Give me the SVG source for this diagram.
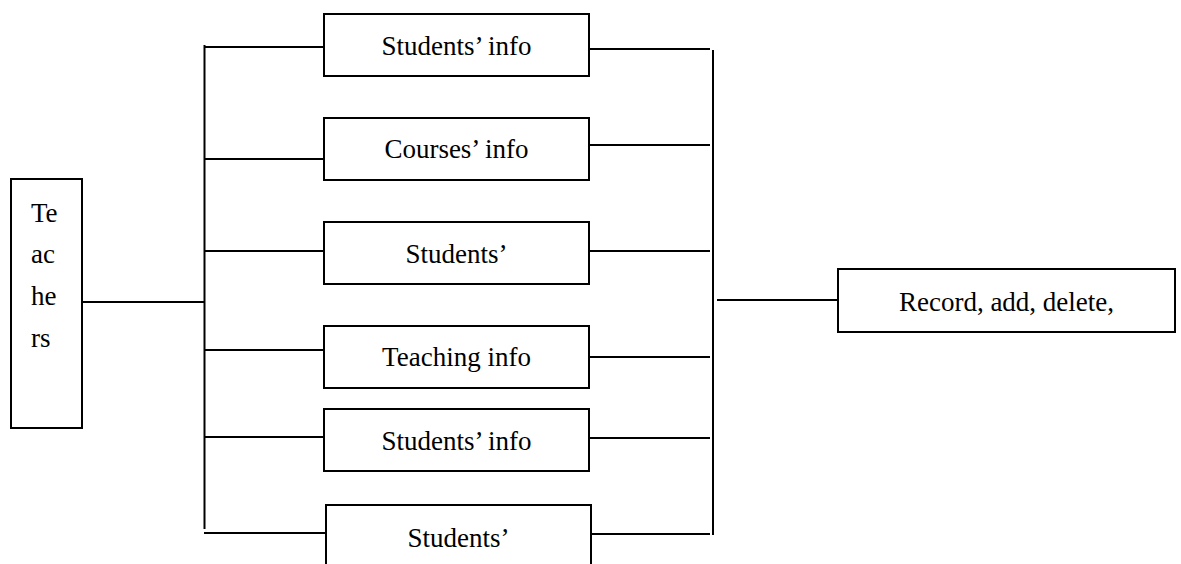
<svg xmlns="http://www.w3.org/2000/svg" width="1181" height="564" viewBox="0 0 1181 564">
<style>
.box{fill:#fff;stroke:#000;stroke-width:2}
.ln{stroke:#000;stroke-width:2;fill:none}
.t{font-family:"Liberation Serif","Times New Roman",serif;font-size:27px;fill:#000}
.c{text-anchor:middle}
</style>
<rect width="1181" height="564" fill="#fff"/>
<g id="connectors">
<line class="ln" x1="204.5" y1="45" x2="204.5" y2="529"/>
<line class="ln" x1="204" y1="47" x2="325" y2="47"/>
<line class="ln" x1="204" y1="159" x2="325" y2="159"/>
<line class="ln" x1="204" y1="251" x2="325" y2="251"/>
<line class="ln" x1="204" y1="350" x2="325" y2="350"/>
<line class="ln" x1="204" y1="437" x2="325" y2="437"/>
<line class="ln" x1="204" y1="533" x2="326" y2="533"/>
<line class="ln" x1="83" y1="302" x2="205" y2="302"/>
<line class="ln" x1="589" y1="49" x2="710" y2="49"/>
<line class="ln" x1="589" y1="145" x2="710" y2="145"/>
<line class="ln" x1="589" y1="251" x2="710" y2="251"/>
<line class="ln" x1="589" y1="357" x2="710" y2="357"/>
<line class="ln" x1="589" y1="438" x2="710" y2="438"/>
<line class="ln" x1="588" y1="534" x2="710" y2="534"/>
<line class="ln" x1="713" y1="50" x2="713" y2="535"/>
<line class="ln" x1="717" y1="300" x2="838" y2="300"/>
</g>
<g id="teachers">
<rect class="box" x="11" y="179" width="71" height="249"/>
<text class="t" x="31" y="222">Te</text>
<text class="t" x="31" y="263">ac</text>
<text class="t" x="31" y="305">he</text>
<text class="t" x="31" y="347">rs</text>
</g>
<g id="students-info-1">
<rect class="box" x="324" y="14" width="265" height="62"/>
<text class="t c" x="456.5" y="55">Students’ info</text>
</g>
<g id="courses-info">
<rect class="box" x="324" y="118" width="265" height="62"/>
<text class="t c" x="456.5" y="158">Courses’ info</text>
</g>
<g id="students-2">
<rect class="box" x="324" y="222" width="265" height="62"/>
<text class="t c" x="456.5" y="263">Students’</text>
</g>
<g id="teaching-info">
<rect class="box" x="324" y="326" width="265" height="62"/>
<text class="t c" x="456.5" y="366">Teaching info</text>
</g>
<g id="students-info-2">
<rect class="box" x="324" y="409" width="265" height="62"/>
<text class="t c" x="456.5" y="450">Students’ info</text>
</g>
<g id="students-3">
<rect class="box" x="326" y="505" width="265" height="70"/>
<text class="t c" x="458.5" y="547">Students’</text>
</g>
<g id="record">
<rect class="box" x="838" y="269" width="337" height="63"/>
<text class="t c" x="1006.5" y="311">Record, add, delete,</text>
</g>
</svg>
